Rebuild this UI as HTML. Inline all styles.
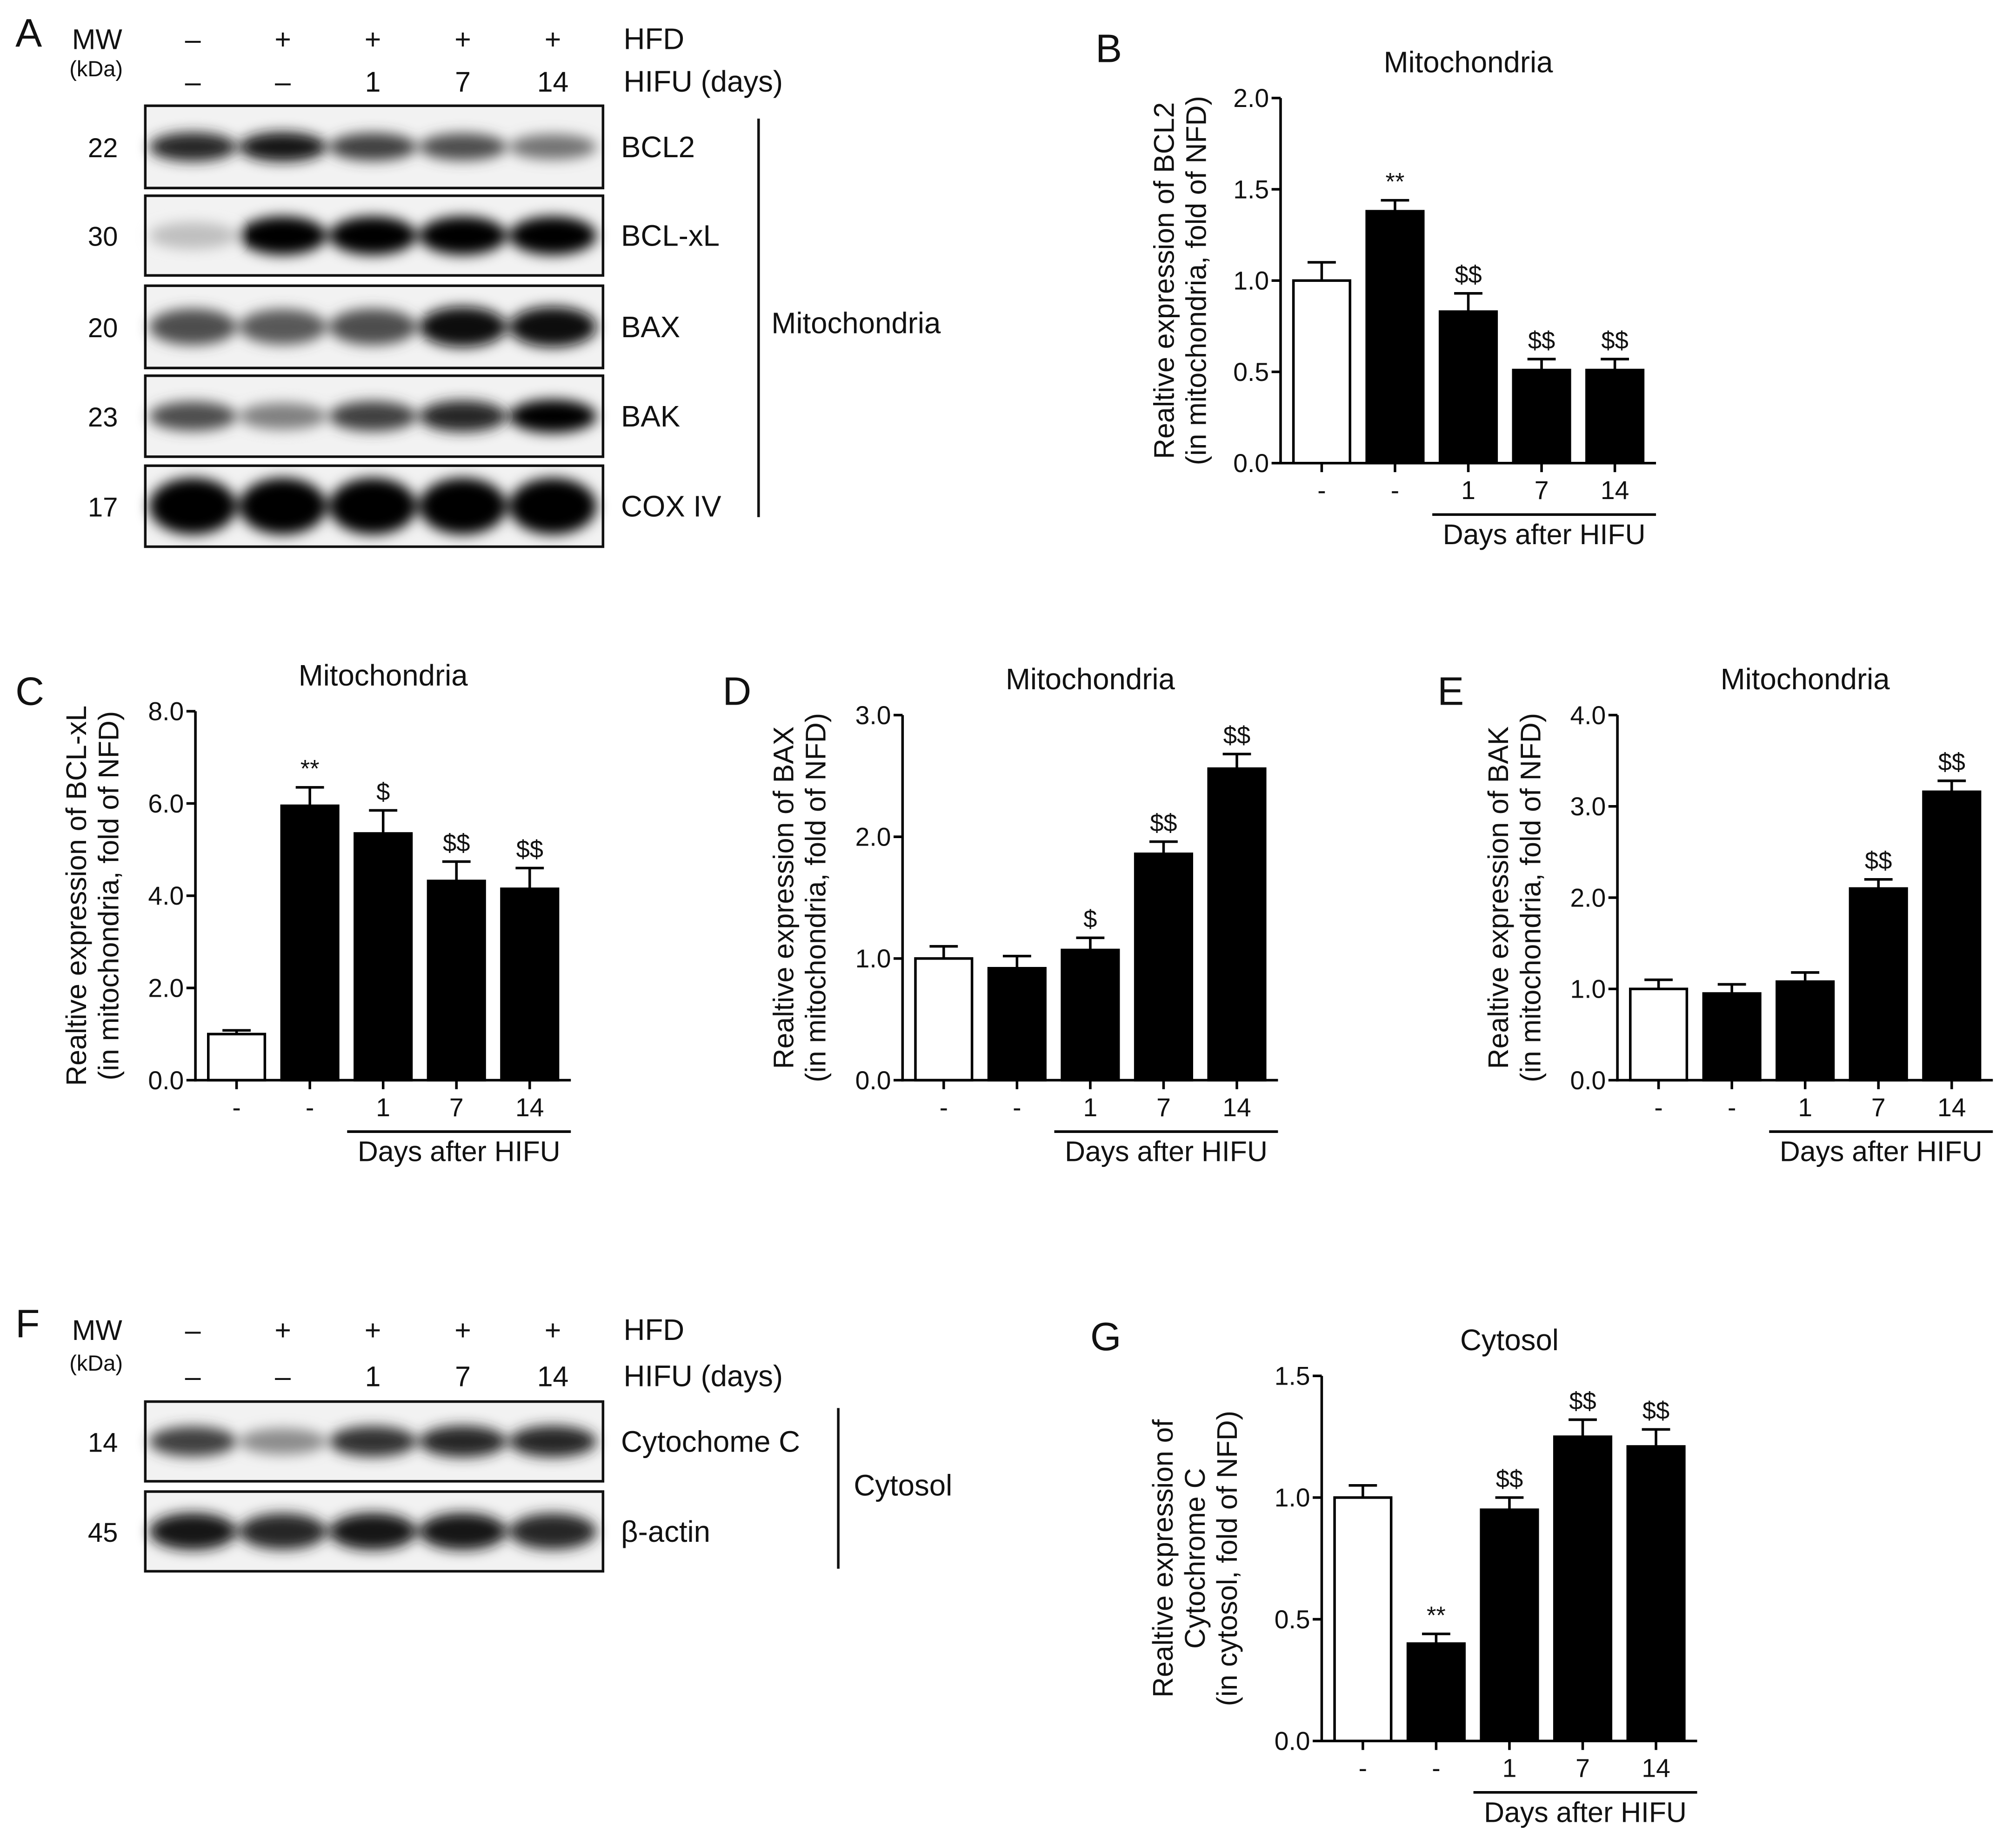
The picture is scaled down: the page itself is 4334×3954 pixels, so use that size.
<!DOCTYPE html>
<html><head><meta charset="utf-8"><style>
html,body{margin:0;padding:0;background:#fff;}
svg{display:block;}
text{font-family:"Liberation Sans",sans-serif;fill:#111;}
</style></head><body>
<svg id="fig" xmlns="http://www.w3.org/2000/svg" width="4334" height="3954" viewBox="0 0 1568 1430">
<defs>
<filter id="blur" x="-30%" y="-80%" width="160%" height="260%"><feGaussianBlur stdDeviation="5"/></filter>
</defs>
<rect width="1568" height="1430" fill="#fff"/>
<g id="blots"></g>
<g id="charts"></g>
</svg>
<script>
// ---- chart data ----
const categories = ["-", "-", "1", "7", "14"];
const bValues = [1.0, 1.38, 0.83, 0.51, 0.51];
const bErrors = [0.10, 0.06, 0.10, 0.06, 0.06];
const bMarks = ["", "**", "$$", "$$", "$$"];
const bTicks = ["0.0", "0.5", "1.0", "1.5", "2.0"];
const cValues = [1.0, 5.95, 5.35, 4.32, 4.15];
const cErrors = [0.08, 0.40, 0.50, 0.42, 0.45];
const cMarks = ["", "**", "$", "$$", "$$"];
const cTicks = ["0.0", "2.0", "4.0", "6.0", "8.0"];
const dValues = [1.0, 0.92, 1.07, 1.86, 2.56];
const dErrors = [0.10, 0.10, 0.10, 0.10, 0.12];
const dMarks = ["", "", "$", "$$", "$$"];
const dTicks = ["0.0", "1.0", "2.0", "3.0"];
const eValues = [1.0, 0.95, 1.08, 2.10, 3.16];
const eErrors = [0.10, 0.10, 0.10, 0.10, 0.12];
const eMarks = ["", "", "", "$$", "$$"];
const eTicks = ["0.0", "1.0", "2.0", "3.0", "4.0"];
const gValues = [1.0, 0.40, 0.95, 1.25, 1.21];
const gErrors = [0.05, 0.04, 0.05, 0.07, 0.07];
const gMarks = ["", "**", "$$", "$$", "$$"];
const gTicks = ["0.0", "0.5", "1.0", "1.5"];
// blot intensities (0..1)
const bcl2Bands = [0.85, 0.9, 0.75, 0.7, 0.55];
const bclxlBands = [0.25, 1, 1, 1, 1];
const baxBands = [0.7, 0.65, 0.7, 0.95, 0.95];
const bakBands = [0.7, 0.5, 0.75, 0.85, 1];
const coxBands = [1, 1, 1, 1, 1];
const cytcBands = [0.75, 0.45, 0.8, 0.85, 0.85];
const actinBands = [0.9, 0.85, 0.9, 0.9, 0.85];

const NS = "http://www.w3.org/2000/svg";
function mk(tag, attrs, parent, txt) {
  const e = document.createElementNS(NS, tag);
  for (const k in attrs) e.setAttribute(k, attrs[k]);
  if (txt !== undefined) e.textContent = txt;
  parent.appendChild(e);
  return e;
}
const charts = document.getElementById("charts");
const blots = document.getElementById("blots");

function drawChart(cfg) {
  const g = mk("g", {}, charts);
  
  
  const maxV = parseFloat(cfg.ticks[cfg.ticks.length - 1]);
  const y = v => cfg.y0 - (v / maxV) * (cfg.y0 - cfg.yTop);
  const x = i => cfg.x0 + 32 + i * 57;
  const L = mk("text", {x: cfg.lx, y: cfg.ly, "font-size": 31}, g, cfg.letter);
  
  
  const T = mk("text", {x: cfg.x0 + 146, y: cfg.yTop - 20, "font-size": 23, "text-anchor": "middle"}, g, cfg.title);
  
  
  cfg.values.forEach((v, i) => {
    const cx = x(i), top = y(v), et = y(v + cfg.errors[i]);
    mk("line", {x1: cx, x2: cx, y1: top, y2: et, stroke: "#000", "stroke-width": 2}, g);
    mk("line", {x1: cx - 11, x2: cx + 11, y1: et, y2: et, stroke: "#000", "stroke-width": 2}, g);
    const r = mk("rect", {x: cx - 22, y: top, width: 44, height: cfg.y0 - top, fill: i === 0 ? "#fff" : "#000", stroke: "#000", "stroke-width": 2}, g);
    
    
    if (cfg.marks[i]) {
      const m = mk("text", {x: cx, y: et - 8, "font-size": 19, "text-anchor": "middle"}, g, cfg.marks[i]);
      
      
    }
    mk("line", {x1: cx, x2: cx, y1: cfg.y0, y2: cfg.y0 + 7, stroke: "#000", "stroke-width": 2}, g);
    const cl = mk("text", {x: cx, y: cfg.y0 + 28, "font-size": 20, "text-anchor": "middle"}, g, categories[i]);
    
    
  });
  const ya = mk("line", {x1: cfg.x0, x2: cfg.x0, y1: cfg.yTop, y2: cfg.y0 + 1, stroke: "#000", "stroke-width": 2}, g);
  
  
  const xa = mk("line", {x1: cfg.x0 - 1, x2: x(4) + 32, y1: cfg.y0, y2: cfg.y0, stroke: "#000", "stroke-width": 2}, g);
  
  
  cfg.ticks.forEach(t => {
    const ty = y(parseFloat(t));
    mk("line", {x1: cfg.x0 - 7, x2: cfg.x0, y1: ty, y2: ty, stroke: "#000", "stroke-width": 2}, g);
    const tl = mk("text", {x: cfg.x0 - 9, y: ty + 7, "font-size": 20, "text-anchor": "end"}, g, t);
    
    
  });
  mk("line", {x1: x(2) - 28, x2: x(4) + 32, y1: cfg.y0 + 40, y2: cfg.y0 + 40, stroke: "#000", "stroke-width": 2}, g);
  const dl = mk("text", {x: (x(2) + x(4)) / 2 + 2, y: cfg.y0 + 63, "font-size": 22, "text-anchor": "middle"}, g, "Days after HIFU");
  
  
  const cy = (cfg.yTop + cfg.y0) / 2;
  cfg.ytitle.forEach((line, k) => {
    const tx = cfg.x0 - cfg.yoff - (cfg.ytitle.length - 1 - k) * 25;
    const yt = mk("text", {x: tx, y: cy, "font-size": 22, "text-anchor": "middle", transform: `rotate(-90 ${tx} ${cy})`}, g, line);
    
    
  });
}

drawChart({name: "chart-b-bcl2", letter: "B", lx: 852, ly: 48, title: "Mitochondria", x0: 996, yoff: 58, yTop: 76, y0: 360, values: bValues, errors: bErrors, marks: bMarks, ticks: bTicks, ytitle: ["Realtive expression of BCL2", "(in mitochondria, fold of NFD)"]});
drawChart({name: "chart-c-bclxl", letter: "C", lx: 12, ly: 548, title: "Mitochondria", x0: 152, yoff: 60, yTop: 553, y0: 840, values: cValues, errors: cErrors, marks: cMarks, ticks: cTicks, ytitle: ["Realtive expression of BCL-xL", "(in mitochondria, fold of NFD)"]});
drawChart({name: "chart-d-bax", letter: "D", lx: 562, ly: 548, title: "Mitochondria", x0: 702, yoff: 60, yTop: 556, y0: 840, values: dValues, errors: dErrors, marks: dMarks, ticks: dTicks, ytitle: ["Realtive expression of BAX", "(in mitochondria, fold of NFD)"]});
drawChart({name: "chart-e-bak", letter: "E", lx: 1118, ly: 548, title: "Mitochondria", x0: 1258, yoff: 60, yTop: 556, y0: 840, values: eValues, errors: eErrors, marks: eMarks, ticks: eTicks, ytitle: ["Realtive expression of BAK", "(in mitochondria, fold of NFD)"]});
drawChart({name: "chart-g-cytochrome-c", letter: "G", lx: 848, ly: 1050, title: "Cytosol", x0: 1028, yoff: 66, yTop: 1070, y0: 1354, values: gValues, errors: gErrors, marks: gMarks, ticks: gTicks, ytitle: ["Realtive expression of", "Cytochrome C", "(in cytosol, fold of NFD)"]});

// ---- blots ----
const lanes = [150, 220, 290, 360, 430];
function blotPanel(name, y1, y2, bands, label, mw, thick) {
  const g = mk("g", {}, blots);
  
  
  mk("rect", {x: 113, y: y1, width: 356, height: y2 - y1, fill: "#f2f2f2"}, g);
  const cy = (y1 + y2) / 2;
  const bg = mk("g", {filter: "url(#blur)"}, g);
  bands.forEach((v, i) => {
    const c = Math.round(255 * (1 - v));
    const e = mk("ellipse", {cx: lanes[i], cy: cy, rx: 34, ry: thick * (0.6 + 0.4 * v), fill: `rgb(${c},${c},${c})`}, bg);
    
    
  });
  mk("rect", {x: 113, y: y1, width: 356, height: y2 - y1, fill: "none", stroke: "#111", "stroke-width": 2}, g);
  mk("text", {x: 483, y: cy + 8, "font-size": 23}, g, label);
  mk("text", {x: 80, y: cy + 8, "font-size": 21, "text-anchor": "middle"}, g, mw);
}
function header(letter, yA, yB) {
  const g = mk("g", {}, blots);
  
  
  mk("text", {x: 12, y: yA + 14, "font-size": 31}, g, letter);
  mk("text", {x: 56, y: yA + 16, "font-size": 22}, g, "MW");
  mk("text", {x: 54, y: yB + 4, "font-size": 17}, g, "(kDa)");
  const hfd = ["\u2013", "+", "+", "+", "+"], hifu = ["\u2013", "\u2013", "1", "7", "14"];
  lanes.forEach((lx, i) => {
    mk("text", {x: lx, y: yA + 16, "font-size": 22, "text-anchor": "middle"}, g, hfd[i]);
    mk("text", {x: lx, y: yB + 16, "font-size": 22, "text-anchor": "middle"}, g, hifu[i]);
  });
  mk("text", {x: 485, y: yA + 16, "font-size": 23}, g, "HFD");
  mk("text", {x: 485, y: yB + 16, "font-size": 23}, g, "HIFU (days)");
}
header("A", 22, 55);
blotPanel("blot-bcl2", 82, 146, bcl2Bands, "BCL2", "22", 12);
blotPanel("blot-bclxl", 152, 214, bclxlBands, "BCL-xL", "30", 15);
blotPanel("blot-bax", 222, 286, baxBands, "BAX", "20", 16);
blotPanel("blot-bak", 292, 355, bakBands, "BAK", "23", 13);
blotPanel("blot-coxiv", 362, 425, coxBands, "COX IV", "17", 22);
mk("line", {x1: 590, x2: 590, y1: 92, y2: 402, stroke: "#111", "stroke-width": 2}, blots);
mk("text", {x: 600, y: 259, "font-size": 23}, blots, "Mitochondria");
header("F", 1026, 1062);
blotPanel("blot-cytochrome-c", 1090, 1152, cytcBands, "Cytochome C", "14", 13);
blotPanel("blot-beta-actin", 1160, 1222, actinBands, "\u03B2-actin", "45", 15);
mk("line", {x1: 652, x2: 652, y1: 1095, y2: 1220, stroke: "#111", "stroke-width": 2}, blots);
mk("text", {x: 664, y: 1163, "font-size": 23}, blots, "Cytosol");
</script>
</body></html>
